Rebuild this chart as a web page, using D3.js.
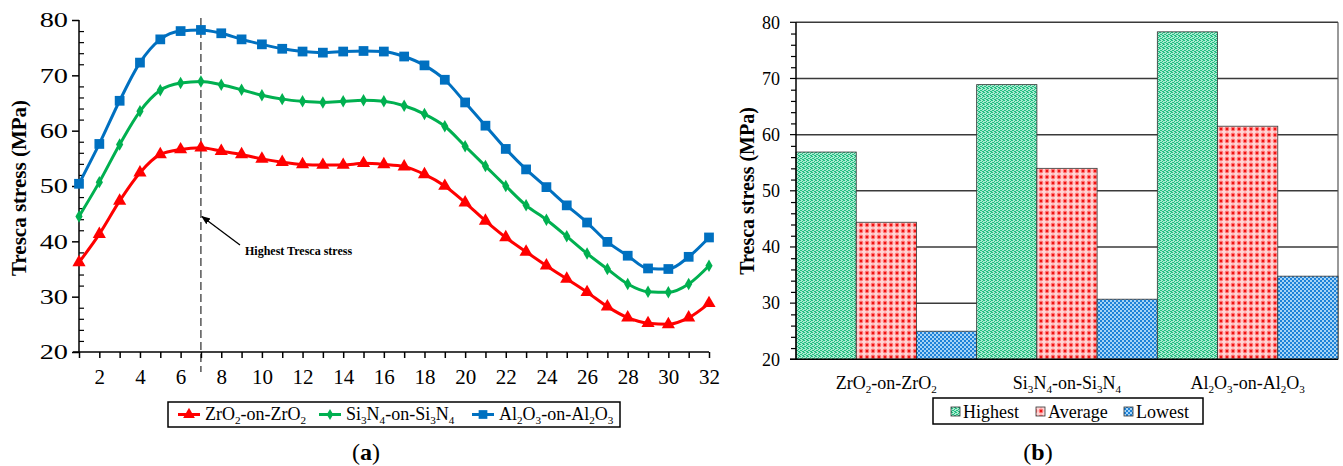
<!DOCTYPE html>
<html><head><meta charset="utf-8">
<script src="https://cdn.jsdelivr.net/npm/d3@7"></script>
<style>
html,body{margin:0;padding:0;background:#fff;}
svg text{font-family:"Liberation Serif","Times New Roman",serif !important;}
</style></head>
<body>
<svg id="chart" width="1343" height="466"></svg>
<script>
// ---------- data (a) ----------
const positions = [1,2,3,4,5,6,7,8,9,10,11,12,13,14,15,16,17,18,19,20,21,22,23,24,25,26,27,28,29,30,31,32];
const zrO2 = [36.2,41.3,47.3,52.4,55.7,56.6,56.9,56.3,55.7,54.9,54.3,53.9,53.8,53.8,54.1,53.9,53.5,52.1,50.0,47.0,43.7,40.7,38.1,35.6,33.2,30.8,28.2,26.2,25.2,25.0,26.2,28.8];
const si3N4 = [44.5,50.7,57.5,63.5,67.3,68.6,68.9,68.3,67.4,66.4,65.7,65.3,65.1,65.3,65.5,65.3,64.5,63.0,60.8,57.2,53.6,50.0,46.5,43.9,40.9,37.8,35.0,32.3,30.9,30.8,32.3,35.6];
const al2O3 = [50.4,57.6,65.4,72.3,76.5,78.0,78.2,77.6,76.5,75.6,74.8,74.3,74.1,74.3,74.4,74.3,73.4,71.8,69.2,65.1,60.9,56.7,53.0,49.8,46.5,43.4,39.9,37.4,35.1,35.0,37.2,40.7];
const xTickLabels = [2,4,6,8,10,12,14,16,18,20,22,24,26,28,30,32];
const yTicks = [20,30,40,50,60,70,80];
const peakPosition = 7;

// ---------- data (b) ----------
const materials = ["ZrO2-on-ZrO2","Si3N4-on-Si3N4","Al2O3-on-Al2O3"];
const barSeries = ["Highest","Average","Lowest"];
const highest = [56.9, 68.9, 78.3];
const average = [44.4, 54.0, 61.5];
const lowest  = [25.0, 30.7, 34.8];

const svg = d3.select("#chart");
const defs = svg.append("defs");

// patterns
const pG = defs.append("pattern").attr("id","pHigh").attr("patternUnits","userSpaceOnUse").attr("width",4).attr("height",4);
pG.append("rect").attr("width",4).attr("height",4).attr("fill","#a9ecd0");
[[0,0],[2,1],[1,2],[3,3],[2,3],[0,2],[3,0]].forEach(([x,y])=>pG.append("rect").attr("x",x).attr("y",y).attr("width",1).attr("height",1).attr("fill","#22bd82"));
const pR = defs.append("pattern").attr("id","pAvg").attr("patternUnits","userSpaceOnUse").attr("width",6).attr("height",6);
pR.append("rect").attr("width",6).attr("height",6).attr("fill","#ffd6d6");
pR.append("circle").attr("cx",3).attr("cy",3).attr("r",2.4).attr("fill","#ff7a7a");
pR.append("circle").attr("cx",3).attr("cy",3).attr("r",1.2).attr("fill","#f01010");
const pB = defs.append("pattern").attr("id","pLow").attr("patternUnits","userSpaceOnUse").attr("width",4).attr("height",4);
pB.append("rect").attr("width",4).attr("height",4).attr("fill","#a6d4f6");
pB.append("rect").attr("x",0).attr("y",0).attr("width",2).attr("height",2).attr("fill","#1f82d8");
pB.append("rect").attr("x",2).attr("y",2).attr("width",2).attr("height",2).attr("fill","#1f82d8");

defs.append("marker").attr("id","arrow").attr("viewBox","0 0 10 10").attr("refX",9).attr("refY",5)
  .attr("markerWidth",9).attr("markerHeight",9).attr("orient","auto-start-reverse").attr("markerUnits","userSpaceOnUse")
  .append("path").attr("d","M0,1 L10,5 L0,9 z").attr("fill","#000");

function subText2(sel, str, size){
  const parts = str.match(/[0-9]+|[^0-9]+/g);
  let down = false;
  parts.forEach(p=>{
    const isSub = /^[0-9]+$/.test(p);
    const t = sel.append("tspan").text(p);
    if(isSub){ t.attr("font-size",size*0.62).attr("dy",size*0.2); down=true; }
    else if(down){ t.attr("dy",-size*0.2); down=false; }
  });
}

// ================= (a) =================
const xA = d3.scaleLinear().domain([1,32]).range([79,709]);
const yA = d3.scaleLinear().domain([20,80]).range([352,20]);
const gA = svg.append("g");

// dashed peak line
gA.append("line").attr("x1",xA(peakPosition)).attr("x2",xA(peakPosition)).attr("y1",18).attr("y2",372)
  .attr("stroke","#000").attr("stroke-width",1).attr("stroke-dasharray","8,4");

// y axis
const yAxA = gA.append("g").attr("transform",`translate(${xA(1)},0)`)
  .call(d3.axisLeft(yA).tickValues(yTicks).tickSize(7).tickFormat(d3.format("d")));
yAxA.select(".domain").attr("stroke","#000").attr("stroke-width",1.5).attr("d",`M0,${yA(80)}V${yA(20)}`);
yAxA.selectAll(".tick line").attr("stroke","#000").attr("stroke-width",1.5);
yAxA.selectAll(".tick text").attr("font-size",21).attr("fill","#000")
  .attr("x",0).attr("transform","translate(-11,0) scale(1.35,1)");
// minor inside ticks
gA.append("g").attr("transform",`translate(${xA(1)},0)`).call(d3.axisRight(yA).tickValues(d3.range(22,80,2).filter(v=>v%10!==0)).tickSize(5).tickFormat(""))
  .call(g=>{g.select(".domain").remove(); g.selectAll("line").attr("stroke","#000").attr("stroke-width",1.2);});

// x axis
const xAxA = gA.append("g").attr("transform",`translate(0,${yA(20)})`)
  .call(d3.axisBottom(xA).tickValues(positions).tickSize(6).tickFormat(d=>xTickLabels.includes(d)?d:""));
xAxA.select(".domain").attr("stroke","#000").attr("stroke-width",1.5).attr("d",`M${xA(1)-6},0H${xA(32)}`);
xAxA.selectAll(".tick line").attr("stroke","#000").attr("stroke-width",1.5);
xAxA.selectAll(".tick text").attr("font-size",21).attr("fill","#000").attr("y",17);

// y title
gA.append("text").attr("transform",`translate(26,188) rotate(-90)`).attr("text-anchor","middle")
  .attr("font-size",21).attr("font-weight","bold").text("Tresca stress (MPa)");

// series
const seriesA = [
  {name:"ZrO2-on-ZrO2", values:zrO2, color:"#ff0000", shape:d3.symbolTriangle, size:75},
  {name:"Si3N4-on-Si3N4", values:si3N4, color:"#00b050", shape:d3.symbolDiamond, size:45},
  {name:"Al2O3-on-Al2O3", values:al2O3, color:"#0070c0", shape:d3.symbolSquare, size:95}
];
const line = d3.line().x((d,i)=>xA(positions[i])).y(d=>yA(d)).curve(d3.curveMonotoneX);
seriesA.forEach(s=>{
  gA.append("path").attr("d",line(s.values)).attr("fill","none").attr("stroke",s.color).attr("stroke-width",3);
  gA.append("g").selectAll("path").data(s.values).join("path")
    .attr("transform",(d,i)=>`translate(${xA(positions[i])},${yA(d)})`)
    .attr("d",d3.symbol().type(s.shape).size(s.size)).attr("fill",s.color);
});

// annotation
gA.append("line").attr("x1",240).attr("y1",245).attr("x2",xA(peakPosition)+1).attr("y2",yA(44.5))
  .attr("stroke","#000").attr("stroke-width",1.3).attr("marker-end","url(#arrow)");
gA.append("text").attr("x",245).attr("y",255).attr("font-size",12).attr("font-weight","bold").text("Highest Tresca stress");

// legend (a)
const legA = gA.append("g");
legA.append("rect").attr("x",168).attr("y",402).attr("width",452).attr("height",25).attr("fill","#fff").attr("stroke","#000").attr("stroke-width",1.5);
const legAx = [178, 319, 472];
seriesA.forEach((s,i)=>{
  const x0 = legAx[i];
  legA.append("line").attr("x1",x0).attr("x2",x0+22).attr("y1",414.5).attr("y2",414.5).attr("stroke",s.color).attr("stroke-width",3);
  legA.append("path").attr("transform",`translate(${x0+11},414.5)`).attr("d",d3.symbol().type(s.shape).size(s.size*0.8)).attr("fill",s.color);
  const t = legA.append("text").attr("x",x0+27).attr("y",420).attr("font-size",18);
  subText2(t, s.name, 18);
});

// (a)
const capA = gA.append("text").attr("x",366).attr("y",460).attr("text-anchor","middle").attr("font-size",24);
capA.append("tspan").text("(");
capA.append("tspan").attr("font-weight","bold").text("a");
capA.append("tspan").text(")");

// ================= (b) =================
const x0B = d3.scaleBand().domain(materials).range([796,1338]).padding(0);
const x1B = d3.scaleBand().domain(barSeries).range([0,x0B.bandwidth()]).padding(0);
const yB = d3.scaleLinear().domain([20,80]).range([359.3,22.3]);
const gB = svg.append("g");

// gridlines
gB.append("g").selectAll("line").data(yTicks.filter(v=>v>20)).join("line")
  .attr("x1",796).attr("x2",1338).attr("y1",d=>yB(d)).attr("y2",d=>yB(d))
  .attr("stroke","#3a3a3a").attr("stroke-width",1.5);
gB.append("line").attr("x1",1338).attr("x2",1338).attr("y1",yB(80)).attr("y2",yB(20)).attr("stroke","#555").attr("stroke-width",1.2);

const barData = [highest, average, lowest];
const fills = ["url(#pHigh)","url(#pAvg)","url(#pLow)"];
materials.forEach((m,mi)=>{
  barSeries.forEach((s,si)=>{
    const v = barData[si][mi];
    gB.append("rect").attr("x",x0B(m)+x1B(s)).attr("y",yB(v)).attr("width",x1B.bandwidth()).attr("height",yB(20)-yB(v))
      .attr("fill",fills[si]).attr("stroke","#333").attr("stroke-width",0.8);
  });
});

// y axis (b)
const yAxB = gB.append("g").attr("transform",`translate(796,0)`)
  .call(d3.axisLeft(yB).tickValues(yTicks).tickSize(0).tickPadding(16).tickFormat(d3.format("d")));
yAxB.select(".domain").attr("stroke","#000").attr("stroke-width",1.5).attr("d",`M0,${yB(80)}V${yB(20)}`);
yAxB.selectAll(".tick text").attr("font-size",18).attr("fill","#000");
gB.append("g").attr("transform",`translate(796,0)`).call(d3.axisLeft(yB).tickValues(d3.range(22,80,2).filter(v=>v%10!==0)).tickSize(5).tickFormat(""))
  .call(g=>{g.select(".domain").remove(); g.selectAll("line").attr("stroke","#000").attr("stroke-width",1.2);});
gB.append("g").selectAll("line").data(yTicks).join("line").attr("x1",790).attr("x2",796).attr("y1",d=>yB(d)).attr("y2",d=>yB(d)).attr("stroke","#000").attr("stroke-width",1.2);

// x axis (b)
gB.append("line").attr("x1",790).attr("x2",1338).attr("y1",yB(20)).attr("y2",yB(20)).attr("stroke","#000").attr("stroke-width",1.5);
materials.forEach(m=>{
  const t = gB.append("text").attr("x",x0B(m)+x0B.bandwidth()/2).attr("y",389).attr("text-anchor","middle").attr("font-size",18);
  subText2(t, m, 18);
});

// y title (b)
gB.append("text").attr("transform",`translate(754,191) rotate(-90)`).attr("text-anchor","middle")
  .attr("font-size",20).attr("font-weight","bold").text("Tresca stress (MPa)");

// legend (b)
const legB = gB.append("g");
legB.append("rect").attr("x",933).attr("y",398).attr("width",270).attr("height",26).attr("fill","#fff").attr("stroke","#000").attr("stroke-width",1.5);
const legBx = [951, 1036, 1124];
barSeries.forEach((s,i)=>{
  legB.append("rect").attr("x",legBx[i]).attr("y",407).attr("width",9).attr("height",9).attr("fill",fills[i]).attr("stroke","#333").attr("stroke-width",0.8);
  legB.append("text").attr("x",legBx[i]+12).attr("y",418).attr("font-size",18).text(s);
});

const capB = gB.append("text").attr("x",1038).attr("y",460).attr("text-anchor","middle").attr("font-size",24);
capB.append("tspan").text("(");
capB.append("tspan").attr("font-weight","bold").text("b");
capB.append("tspan").text(")");
</script>
</body></html>
